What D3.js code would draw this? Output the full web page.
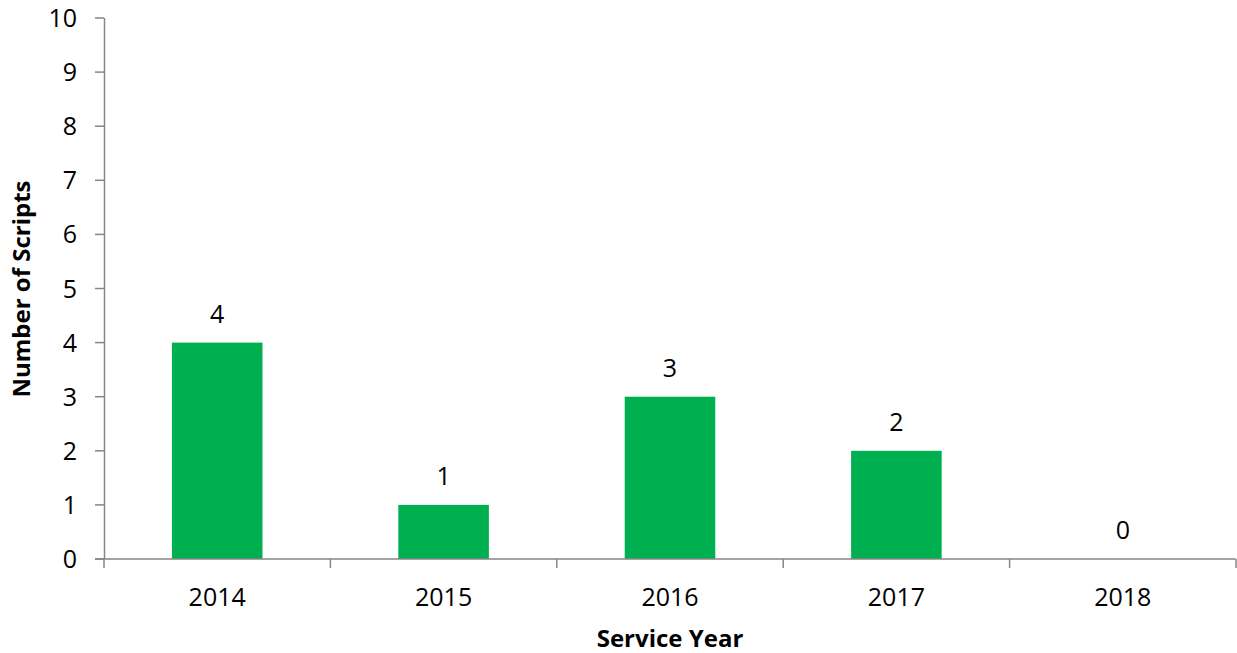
<!DOCTYPE html>
<html><head><meta charset="utf-8">
<script src="https://cdn.jsdelivr.net/npm/d3@7"></script>
<style>body{margin:0;background:#fff}text{font-family:"Open Sans",sans-serif;fill:#000}</style>
</head><body><svg id="c" width="1237" height="653"></svg>
<script>
const categories = ["2014","2015","2016","2017","2018"];
const values = [4,1,3,2,0];
const yTicks = [0,1,2,3,4,5,6,7,8,9,10];
const xTitle = "Service Year";
const yTitle = "Number of Scripts";

const svg = d3.select("#c");
const m = {l:104, r:1236, t:18, b:559};
const x = d3.scaleBand().domain(categories).range([m.l, m.r]).paddingInner(0.6).paddingOuter(0.3);
const xb = d3.scaleBand().domain(categories).range([m.l, m.r]);
const y = d3.scaleLinear().domain([0,10]).range([m.b, m.t]);
const axisCol = "#868686";

svg.selectAll("rect.bar").data(values).join("rect")
  .attr("x",(d,i)=>x(categories[i])).attr("width",x.bandwidth())
  .attr("y",d=>y(d)).attr("height",d=>y(0)-y(d)).attr("fill","#00B050");

// y axis
svg.append("line").attr("x1",m.l+0.5).attr("x2",m.l+0.5).attr("y1",y(10)).attr("y2",y(0)).attr("stroke",axisCol).attr("stroke-width",1.5);
svg.selectAll("line.yt").data(yTicks).join("line")
  .attr("x1",m.l-9).attr("x2",m.l).attr("y1",d=>y(d)).attr("y2",d=>y(d)).attr("stroke",axisCol).attr("stroke-width",1.5);
svg.selectAll("text.yl").data(yTicks).join("text")
  .attr("x",77).attr("y",d=>y(d)).attr("dy","0.36em").attr("text-anchor","end")
  .style("font-size","25px").text(d=>d);

// x axis
svg.append("line").attr("x1",m.l-9).attr("x2",m.r).attr("y1",y(0)).attr("y2",y(0)).attr("stroke",axisCol).attr("stroke-width",1.5);
const bounds = categories.map(c=>xb(c)).concat([m.r]);
svg.selectAll("line.xt").data(bounds).join("line")
  .attr("x1",d=>d).attr("x2",d=>d).attr("y1",y(0)).attr("y2",y(0)+9).attr("stroke",axisCol).attr("stroke-width",1.5);
svg.selectAll("text.xl").data(categories).join("text")
  .attr("x",d=>xb(d)+xb.bandwidth()/2).attr("y",606).attr("text-anchor","middle")
  .style("font-size","25px").text(d=>d);

// value labels
svg.selectAll("text.vl").data(values).join("text")
  .attr("x",(d,i)=>xb(categories[i])+xb.bandwidth()/2).attr("y",d=>y(d)-20).attr("text-anchor","middle")
  .style("font-size","25px").text(d=>d);

// titles
svg.append("text").attr("x",670).attr("y",647).attr("text-anchor","middle")
  .style("font-size","24px").style("font-weight","bold").text(xTitle);
svg.append("text").attr("transform","translate(30,289) rotate(-90)").attr("text-anchor","middle")
  .style("font-size","24px").style("font-weight","bold").text(yTitle);
</script></body></html>
